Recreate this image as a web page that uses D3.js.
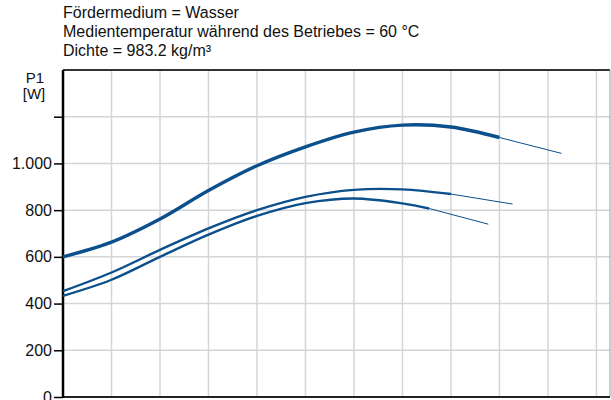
<!DOCTYPE html>
<html>
<head>
<meta charset="utf-8">
<script src="https://cdn.jsdelivr.net/npm/d3@7"></script>
<style>
  body { margin: 0; background: #fff; }
  svg { display: block; font-family: "Liberation Sans", Arial, sans-serif; }
</style>
</head>
<body>
<div id="vis"></div>
<script>
// header lines above the chart
const infoLines = [
  "Fördermedium = Wasser",
  "Medientemperatur während des Betriebes = 60 °C",
  "Dichte = 983.2 kg/m³"
];

// x in grid units (no x labels visible in the picture), P1 in W
const yTicks = [0, 200, 400, 600, 800, 1000, 1200];
const yTickLabels = ["0", "200", "400", "600", "800", "1.000", ""];

const curveTop = [[0, 600], [1, 663], [2, 762], [3, 884], [4, 990], [5, 1071], [6, 1134], [7, 1164], [8, 1156], [9, 1111]];
const curveTopExt = [[9, 1111], [10.28, 1043]];
const curveMid = [[0, 453], [1, 533], [2, 630], [3, 722], [4, 800], [5, 857], [6, 887], [7, 889], [8, 869]];
const curveMidExt = [[8, 869], [9.27, 826]];
const curveLow = [[0, 433], [1, 502], [2, 600], [3, 695], [4, 775], [5, 830], [6, 850], [7, 829], [7.55, 807]];
const curveLowExt = [[7.55, 807], [8.77, 740]];

const width = 611;
const height = 400;
const plot = { left: 63, right: 610, top: 70, bottom: 397 };
const lineColour = "#0b4f8c";
const fontSize = "16px";

const svg = d3.select("#vis").append("svg")
  .attr("width", width)
  .attr("height", height);

const x = d3.scaleLinear().domain([0, 11.28]).range([plot.left, plot.right]);
const y = d3.scaleLinear().domain([0, 1400]).range([plot.bottom, plot.top]);

// info text
svg.append("g").selectAll("text")
  .data(infoLines)
  .enter().append("text")
  .attr("x", 63)
  .attr("y", (d, i) => 18 + i * 19)
  .style("font-size", fontSize)
  .attr("fill", "#111")
  .text(d => d);

// grid
const grid = svg.append("g").attr("stroke", "#d3d6d9").attr("stroke-width", 1.5);
grid.selectAll(".vx")
  .data(d3.range(1, 12))
  .enter().append("line")
  .attr("x1", d => x(d)).attr("x2", d => x(d))
  .attr("y1", plot.top).attr("y2", plot.bottom);
grid.selectAll(".hy")
  .data(yTicks.filter(d => d > 0))
  .enter().append("line")
  .attr("x1", plot.left).attr("x2", plot.right)
  .attr("y1", d => y(d)).attr("y2", d => y(d));

// frame
svg.append("line")
  .attr("x1", plot.left).attr("x2", plot.right)
  .attr("y1", plot.top).attr("y2", plot.top)
  .attr("stroke", "#333").attr("stroke-width", 2);
svg.append("line")
  .attr("x1", plot.right).attr("x2", plot.right)
  .attr("y1", plot.top).attr("y2", plot.bottom)
  .attr("stroke", "#999").attr("stroke-width", 1);
svg.append("line")
  .attr("x1", plot.left).attr("x2", plot.right)
  .attr("y1", plot.bottom).attr("y2", plot.bottom)
  .attr("stroke", "#222").attr("stroke-width", 2);

// y axis
const yAxis = d3.axisLeft(y)
  .tickValues(yTicks)
  .tickSize(9)
  .tickPadding(2)
  .tickFormat((d, i) => yTickLabels[i]);
const yg = svg.append("g")
  .attr("transform", `translate(${plot.left},0)`)
  .call(yAxis);
yg.select(".domain").remove();
yg.selectAll(".tick line").attr("stroke", "#000").attr("stroke-width", 1.5);
yg.selectAll(".tick text")
  .style("font-size", fontSize)
  .style("font-family", "'Liberation Sans', Arial, sans-serif")
  .attr("fill", "#111");
svg.append("line")
  .attr("x1", plot.left).attr("x2", plot.left)
  .attr("y1", plot.top).attr("y2", plot.bottom + 1)
  .attr("stroke", "#000").attr("stroke-width", 2.5);

// axis title
svg.append("text")
  .attr("x", 35).attr("y", 83)
  .attr("text-anchor", "middle")
  .style("font-size", "15px")
  .attr("fill", "#111")
  .text("P1");
svg.append("text")
  .attr("x", 34).attr("y", 99)
  .attr("text-anchor", "middle")
  .style("font-size", "15px")
  .attr("fill", "#111")
  .text("[W]");

// curves: thick = working range, thin = extension
const line = d3.line()
  .x(d => x(d[0]))
  .y(d => y(d[1]))
  .curve(d3.curveCatmullRom.alpha(0.5));

const curves = [
  { data: curveTop, w: 3.4 },
  { data: curveMid, w: 2.4 },
  { data: curveLow, w: 2.4 },
  { data: curveTopExt, w: 1 },
  { data: curveMidExt, w: 1 },
  { data: curveLowExt, w: 1 }
];

svg.append("g").selectAll("path")
  .data(curves)
  .enter().append("path")
  .attr("d", d => line(d.data))
  .attr("fill", "none")
  .attr("stroke", lineColour)
  .attr("stroke-width", d => d.w)
  .attr("stroke-linecap", "butt");
</script>
</body>
</html>
